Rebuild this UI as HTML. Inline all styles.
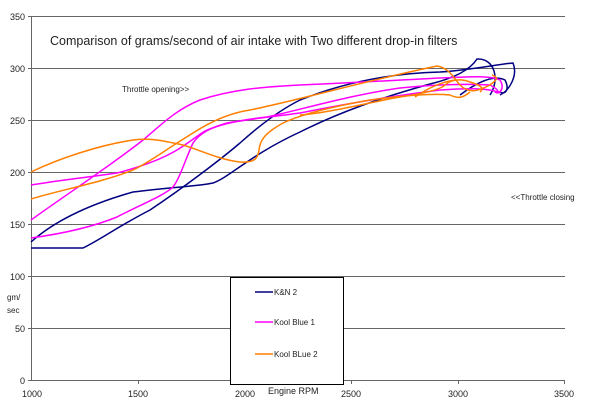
<!DOCTYPE html>
<html><head><style>
body{margin:0;background:#fff;}
svg text{font-family:"Liberation Sans",Arial,sans-serif;fill:#222;}
</style></head><body>
<svg width="600" height="410" viewBox="0 0 600 410" xmlns="http://www.w3.org/2000/svg">
<g stroke="#666" stroke-width="1">
<line x1="32" y1="16.5" x2="565" y2="16.5"/>
<line x1="32" y1="68.5" x2="565" y2="68.5"/>
<line x1="32" y1="120.5" x2="565" y2="120.5"/>
<line x1="32" y1="172.5" x2="565" y2="172.5"/>
<line x1="32" y1="224.5" x2="565" y2="224.5"/>
<line x1="32" y1="276.5" x2="565" y2="276.5"/>
<line x1="32" y1="328.5" x2="565" y2="328.5"/>
<line x1="32" y1="380.5" x2="565" y2="380.5"/>
<line x1="31.5" y1="16" x2="31.5" y2="381"/>
<g>
<line x1="28" y1="16.5" x2="32" y2="16.5"/><line x1="28" y1="68.5" x2="32" y2="68.5"/><line x1="28" y1="120.5" x2="32" y2="120.5"/><line x1="28" y1="172.5" x2="32" y2="172.5"/><line x1="28" y1="224.5" x2="32" y2="224.5"/><line x1="28" y1="276.5" x2="32" y2="276.5"/><line x1="28" y1="328.5" x2="32" y2="328.5"/><line x1="28" y1="380.5" x2="32" y2="380.5"/>
<line x1="138.5" y1="380" x2="138.5" y2="384"/><line x1="245.5" y1="380" x2="245.5" y2="384"/><line x1="351.5" y1="380" x2="351.5" y2="384"/><line x1="458.5" y1="380" x2="458.5" y2="384"/><line x1="564.5" y1="380" x2="564.5" y2="384"/>
</g></g>
<g font-size="9" text-anchor="end">
<text x="25" y="20">350</text><text x="25" y="72">300</text><text x="25" y="124">250</text><text x="25" y="176">200</text><text x="25" y="228">150</text><text x="25" y="280">100</text><text x="25" y="332">50</text><text x="25" y="384">0</text>
</g>
<g font-size="9" text-anchor="middle">
<text x="32" y="397">1000</text><text x="138" y="397">1500</text><text x="245" y="397">2000</text><text x="351" y="397">2500</text><text x="458" y="397">3000</text><text x="564" y="397">3500</text>
</g>
<text x="268" y="394" font-size="9">Engine RPM</text>
<text x="7" y="300" font-size="8">gm/</text><text x="7" y="313" font-size="8">sec</text>
<text x="50" y="45" font-size="12.5">Comparison of grams/second of air intake with Two different drop-in filters</text>
<text x="122" y="92" font-size="8">Throttle opening&gt;&gt;</text>
<text x="511" y="200" font-size="8">&lt;&lt;Throttle closing</text>
<g fill="none" stroke-width="1.5">
<path stroke="#000080" d="M31,242 C50,225 80,207 133,192 C173,187 200,186 213,183 C230,177 250,155 300,132 C340,112 380,98 430,84 C455,78 470,70 477,59 C495,58 500,80 490,95"/>
<path stroke="#000080" d="M31,248 L83,248 C100,240 117,227 150,210 C183,188 220,160 240,143 C260,125 280,110 300,100 C350,80 400,73 440,72 C470,70 500,64 513,63 C518,75 510,90 500,95 M460,95 C480,80 495,75 505,80 C510,90 505,95 500,92"/>
<path stroke="#ff00ff" d="M31,220 C70,192 110,166 143,140 C160,126 175,110 200,100 C230,90 260,87 300,85 C350,83 400,80 440,78 C470,77 490,75 500,80 C505,88 500,95 495,92"/>
<path stroke="#ff00ff" d="M31,185 C60,180 90,177 117,173 C140,167 162,159 177,150 C190,142 198,135 205,131 C220,124 240,120 267,117 C300,110 350,95 400,88 C440,84 470,84 490,85 C500,90 500,95 495,92"/>
<path stroke="#ff00ff" d="M31,238 C60,234 90,228 117,217 C140,205 165,195 173,187 C180,178 185,160 193,143 C200,133 210,128 227,123 C250,119 270,117 300,113 C350,103 400,95 440,90 C470,88 490,88 500,93"/>
<path stroke="#ff7f00" d="M31,172 C60,158 100,145 133,140 C150,138 160,140 183,145 C200,150 220,160 240,162 C255,163 258,158 259,150 C260,140 265,133 283,123 C300,115 330,107 370,100 C400,96 430,93 450,95 C460,100 465,96 470,92"/>
<path stroke="#ff7f00" d="M31,199 C60,190 100,183 133,170 C150,162 165,150 193,133 C210,122 230,113 250,110 C300,100 360,82 437,66 C450,68 455,80 460,85 C470,95 480,90 490,85 C496,80 500,78 492,75"/>
<path stroke="#ff7f00" d="M300,115 C330,113 380,100 400,97 C420,94 440,90 445,85 C450,80 460,78 470,82 C480,85 485,88 480,92 M415,97 C425,90 440,82 455,80"/>
</g>
<rect x="230.5" y="277.5" width="113" height="107" fill="#fff" stroke="#000" stroke-width="1"/>
<g stroke-width="1.5">
<line x1="255" y1="292" x2="273" y2="292" stroke="#000080"/>
<line x1="255" y1="322" x2="273" y2="322" stroke="#ff00ff"/>
<line x1="255" y1="354" x2="273" y2="354" stroke="#ff7f00"/>
</g>
<g font-size="8">
<text x="274" y="295">K&amp;N 2</text><text x="274" y="325">Kool Blue 1</text><text x="274" y="357">Kool BLue 2</text>
</g>
</svg>
</body></html>
